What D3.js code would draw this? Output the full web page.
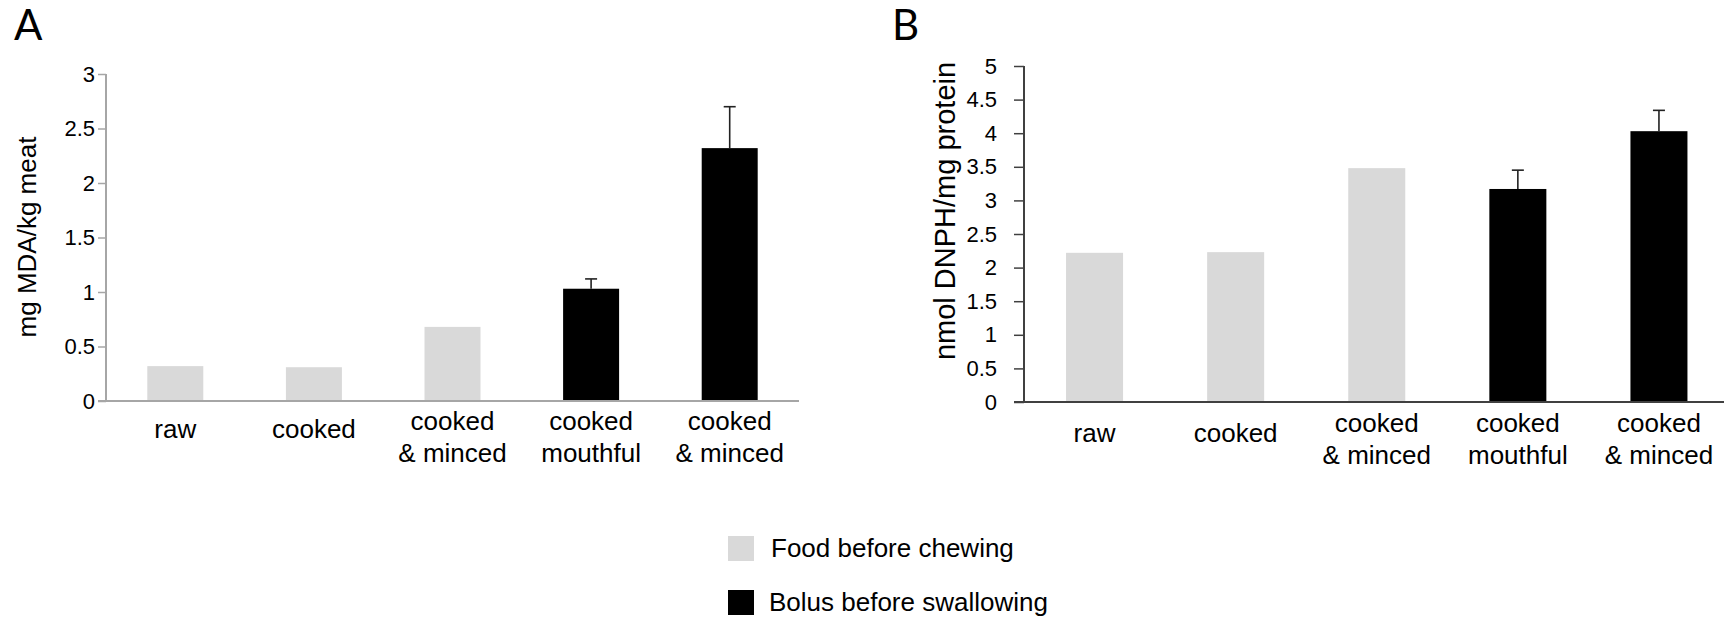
<!DOCTYPE html>
<html>
<head>
<meta charset="utf-8">
<script src="https://cdn.jsdelivr.net/npm/d3@7"></script>
<style>
  body { margin: 0; background: #fff; }
  svg { display: block; }
  text { font-family: "Liberation Sans", Arial, sans-serif; fill: #000; }
</style>
</head>
<body>
<svg id="chart" width="1724" height="622"></svg>
<script>
// ======
// DATA
// ======
var categories = [["raw"], ["cooked"], ["cooked", "& minced"], ["cooked", "mouthful"], ["cooked", "& minced"]];
var groups = ["food", "food", "food", "bolus", "bolus"];

// panel A : mg MDA/kg meat
var mdaValues = [0.32, 0.31, 0.68, 1.03, 2.32];
var mdaErrors = [0, 0, 0, 0.09, 0.38];
var mdaTicks = [0, 0.5, 1, 1.5, 2, 2.5, 3];

// panel B : nmol DNPH/mg protein
var dnphValues = [2.22, 2.23, 3.48, 3.17, 4.03];
var dnphErrors = [0, 0, 0, 0.28, 0.31];
var dnphTicks = [0, 0.5, 1, 1.5, 2, 2.5, 3, 3.5, 4, 4.5, 5];

var legendLabels = ["Food before chewing", "Bolus before swallowing"];
var legendKeys = ["food", "bolus"];

var colors = { food: "#d9d9d9", bolus: "#000000" };

var svg = d3.select("#chart");

// ############################
// # draws one bar chart panel
// ############################
function drawPanel(opt) {
  var idx = d3.range(categories.length);

  var x = d3.scaleBand()
    .domain(idx)
    .range([opt.left, opt.right])
    .paddingInner(0.596)
    .paddingOuter(0.298);

  var y = d3.scaleLinear()
    .domain([0, opt.max])
    .range([opt.bottom, opt.top]);

  var g = svg.append("g");

  // panel letter
  g.append("text")
    .attr("x", opt.letterX)
    .attr("y", 40)
    .style("font-family", "Lato, 'Open Sans', sans-serif")
    .style("font-size", "42px")
    .text(opt.letter);

  // bars
  g.selectAll("rect.bar")
    .data(idx)
    .enter().append("rect")
    .attr("class", "bar")
    .attr("x", function (i) { return x(i); })
    .attr("width", x.bandwidth())
    .attr("y", function (i) { return y(opt.values[i]); })
    .attr("height", function (i) { return y(0) - y(opt.values[i]); })
    .attr("fill", function (i) { return colors[groups[i]]; });

  // error bars (only upward)
  var withErr = idx.filter(function (i) { return opt.errors[i] > 0; });
  var eg = g.selectAll("g.err").data(withErr).enter().append("g")
    .attr("stroke", "#222")
    .attr("stroke-width", 1.6);
  eg.append("line")
    .attr("x1", function (i) { return x(i) + x.bandwidth() / 2; })
    .attr("x2", function (i) { return x(i) + x.bandwidth() / 2; })
    .attr("y1", function (i) { return y(opt.values[i]); })
    .attr("y2", function (i) { return y(opt.values[i] + opt.errors[i]); });
  eg.append("line")
    .attr("x1", function (i) { return x(i) + x.bandwidth() / 2 - 6; })
    .attr("x2", function (i) { return x(i) + x.bandwidth() / 2 + 6; })
    .attr("y1", function (i) { return y(opt.values[i] + opt.errors[i]); })
    .attr("y2", function (i) { return y(opt.values[i] + opt.errors[i]); });

  // y axis
  var yAxis = g.append("g")
    .attr("transform", "translate(" + opt.left + ",0)")
    .call(d3.axisLeft(y)
      .tickValues(opt.ticks)
      .tickSize(opt.tickLen)
      .tickPadding(opt.tickPad)
      .tickFormat(function (d) { return String(d); }));
  yAxis.select(".domain").remove();
  yAxis.selectAll(".tick line").attr("stroke", opt.axisColor).attr("stroke-width", 1.5);
  yAxis.selectAll(".tick text")
    .style("font-family", "'Liberation Sans', Arial, sans-serif")
    .style("font-size", "22px")
    .attr("fill", "#000");

  g.append("line")
    .attr("x1", opt.left).attr("x2", opt.left)
    .attr("y1", y(opt.max)).attr("y2", y(0))
    .attr("stroke", opt.axisColor)
    .attr("stroke-width", 2);

  // baseline
  g.append("line")
    .attr("x1", opt.left - opt.tickLen).attr("x2", opt.baseEnd)
    .attr("y1", y(0)).attr("y2", y(0))
    .attr("stroke", opt.axisColor)
    .attr("stroke-width", 2);

  // category labels
  var cl = g.selectAll("text.cat")
    .data(idx)
    .enter().append("text")
    .attr("class", "cat")
    .attr("text-anchor", "middle")
    .style("font-size", "26px")
    .attr("transform", function (i) {
      var yy = categories[i].length === 1 ? opt.singleY : opt.doubleY;
      return "translate(" + (x(i) + x.bandwidth() / 2) + "," + yy + ")";
    });
  cl.selectAll("tspan")
    .data(function (i) { return categories[i]; })
    .enter().append("tspan")
    .attr("x", 0)
    .attr("dy", function (d, k) { return k === 0 ? 0 : 32; })
    .text(function (d) { return d; });

  // y title
  g.append("text")
    .attr("transform", "translate(" + opt.titleX + "," + opt.titleY + ") rotate(-90)")
    .attr("text-anchor", "middle")
    .style("font-size", opt.titleSize + "px")
    .text(opt.title);
}

drawPanel({
  letter: "A", letterX: 14,
  values: mdaValues, errors: mdaErrors, ticks: mdaTicks, max: 3,
  left: 106, right: 799, baseEnd: 799, top: 74, bottom: 401,
  tickLen: 8, tickPad: 3, axisColor: "#a6a6a6",
  singleY: 438, doubleY: 430,
  title: "mg MDA/kg meat", titleX: 36, titleY: 237, titleSize: 26
});

drawPanel({
  letter: "B", letterX: 892,
  values: dnphValues, errors: dnphErrors, ticks: dnphTicks, max: 5,
  left: 1024, right: 1729.5, baseEnd: 1724, top: 66, bottom: 402,
  tickLen: 10, tickPad: 17, axisColor: "#404040",
  singleY: 442, doubleY: 432,
  title: "nmol DNPH/mg protein", titleX: 955, titleY: 211, titleSize: 29
});

// ########
// # LEGEND
// ########
var legend = svg.append("g");
var lg = legend.selectAll("g")
  .data(legendKeys)
  .enter().append("g")
  .attr("transform", function (d, i) { return "translate(728," + (536 + i * 54) + ")"; });
lg.append("rect")
  .attr("width", 26)
  .attr("height", 25)
  .attr("fill", function (d) { return colors[d]; });
lg.append("text")
  .attr("x", function (d, i) { return i === 0 ? 43 : 41; })
  .attr("y", 21)
  .style("font-size", "26px")
  .text(function (d, i) { return legendLabels[i]; });
</script>
</body>
</html>
